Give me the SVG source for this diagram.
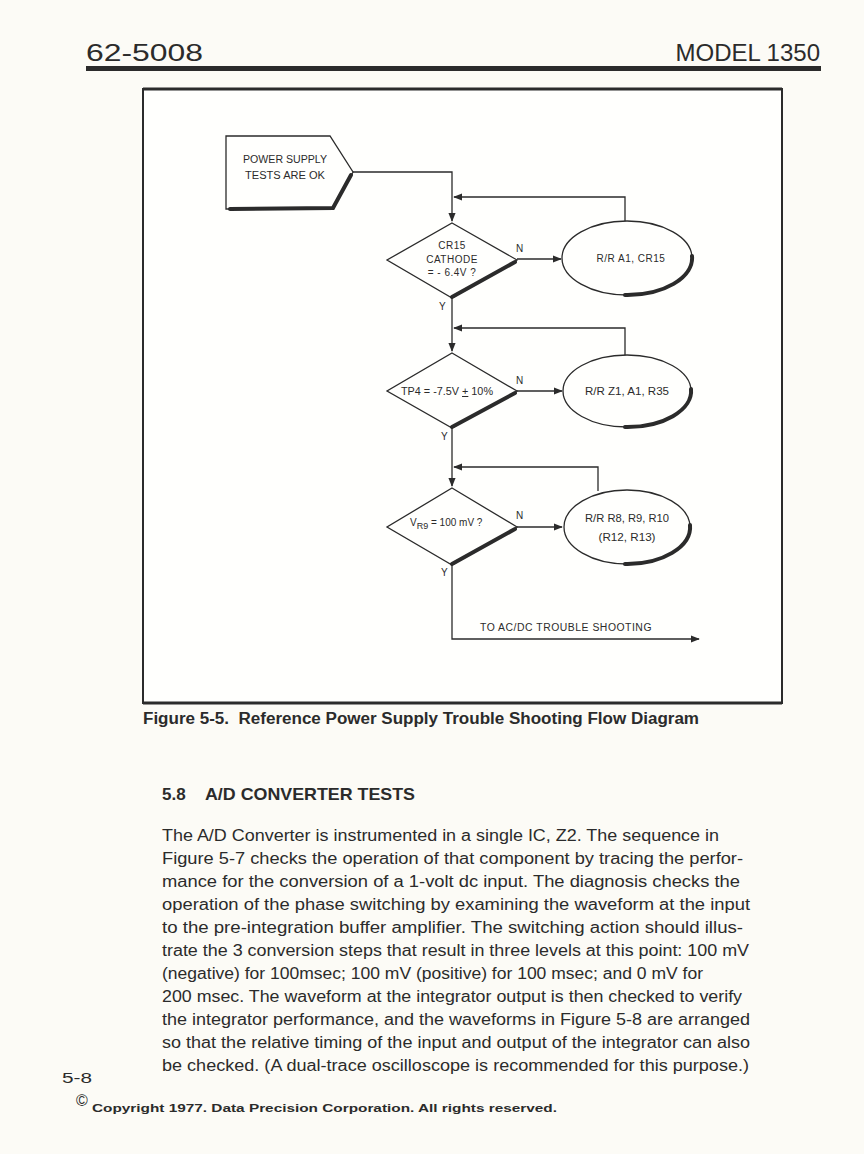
<svg xmlns="http://www.w3.org/2000/svg" width="864" height="1154" viewBox="0 0 864 1154">
<defs>
<marker id="ah" viewBox="0 0 10 10" refX="9" refY="5" markerWidth="9" markerHeight="9" markerUnits="userSpaceOnUse" orient="auto">
<path d="M0,1 L10,5 L0,9 z" fill="#2b2b2b"/>
</marker>
<style>
.ln{fill:none;stroke:#2b2b2b;stroke-width:1.3}
.sh{fill:none;stroke:#2b2b2b;stroke-width:4;stroke-linecap:round}
.nd{fill:#fffffd;stroke:#2b2b2b;stroke-width:1.3}
.t{font-family:"Liberation Sans",Arial,sans-serif;fill:#2b2b2b}
.s{font-size:10px;letter-spacing:0.5px}
.c{text-anchor:middle}
.body{font-size:16px}
</style>
</defs>
<rect width="864" height="1154" fill="#fcfbf6"/>
<g id="header">
<text class="t" x="86" y="61" font-size="24" textLength="117" lengthAdjust="spacingAndGlyphs">62-5008</text>
<text class="t" x="820" y="61" font-size="24" text-anchor="end">MODEL 1350</text>
<rect x="86" y="66" width="735" height="5" fill="#2b2b2b"/>
</g>
<g id="frame">
<path d="M143,703 L143,89 L782,89 L782,703 Z" fill="#fffffd" stroke="#2b2b2b" stroke-width="2"/>
<line x1="143" y1="89" x2="782" y2="89" stroke="#2b2b2b" stroke-width="3"/>
<line x1="143" y1="703" x2="782" y2="703" stroke="#2b2b2b" stroke-width="3"/>
</g>
<g id="connectors">
<path class="ln" d="M353,172 L452,172 L452,221" marker-end="url(#ah)"/>
<path class="ln" d="M625,221 L625,197 L454,197" marker-end="url(#ah)"/>
<path class="ln" d="M517,259 L561,259" marker-end="url(#ah)"/>
<path class="ln" d="M452,298 L452,351" marker-end="url(#ah)"/>
<path class="ln" d="M625,356 L625,328 L454,328" marker-end="url(#ah)"/>
<path class="ln" d="M517,391 L562,391" marker-end="url(#ah)"/>
<path class="ln" d="M452,428 L452,486" marker-end="url(#ah)"/>
<path class="ln" d="M598,491 L598,467 L454,467" marker-end="url(#ah)"/>
<path class="ln" d="M517,527 L562,527" marker-end="url(#ah)"/>
<path class="ln" d="M452,565 L452,639 L699,639" marker-end="url(#ah)"/>
<text class="t s" x="516" y="252">N</text>
<text class="t s" x="439" y="310">Y</text>
<text class="t s" x="516" y="384">N</text>
<text class="t s" x="441" y="440">Y</text>
<text class="t s" x="516" y="519">N</text>
<text class="t s" x="441" y="576">Y</text>
<text class="t s" x="480" y="631" textLength="172" lengthAdjust="spacingAndGlyphs">TO AC/DC TROUBLE SHOOTING</text>
</g>
<g id="start">
<path class="nd" d="M226,136 L330,136 L353,172 L333,209 L226,209 Z"/>
<path class="sh" d="M351,175 L333,208 L230,209" stroke-width="3"/>
<text class="t c" x="285" y="163" font-size="10" textLength="84" lengthAdjust="spacingAndGlyphs">POWER SUPPLY</text>
<text class="t c" x="285" y="179" font-size="10" textLength="80" lengthAdjust="spacingAndGlyphs">TESTS ARE OK</text>
</g>
<g id="d1">
<path class="nd" d="M452,223 L517,260 L452,298 L387,260 Z"/>
<path class="sh" d="M515,262 L452,297"/>
<text class="t s c" x="452" y="249">CR15</text>
<text class="t s c" x="452" y="263">CATHODE</text>
<text class="t s c" x="452" y="276">= - 6.4V ?</text>
</g>
<g id="e1">
<ellipse class="nd" cx="627" cy="258" rx="65" ry="37"/>
<path class="sh" d="M692,256 A65,37 0 0 1 625,295"/>
<text class="t s c" x="631" y="262">R/R A1, CR15</text>
</g>
<g id="d2">
<path class="nd" d="M452,353 L517,391 L452,428 L387,391 Z"/>
<path class="sh" d="M515,393 L452,427"/>
<text class="t c" x="447" y="395" font-size="10" textLength="92" lengthAdjust="spacingAndGlyphs">TP4 = -7.5V <tspan text-decoration="underline">+</tspan> 10%</text>
</g>
<g id="e2">
<ellipse class="nd" cx="627" cy="391" rx="64" ry="36"/>
<path class="sh" d="M691,389 A64,36 0 0 1 625,427"/>
<text class="t c" x="627" y="395" font-size="10" textLength="84" lengthAdjust="spacingAndGlyphs">R/R Z1, A1, R35</text>
</g>
<g id="d3">
<path class="nd" d="M452,488 L517,527 L452,565 L387,527 Z"/>
<path class="sh" d="M515,529 L452,564"/>
<text class="t" x="410" y="526" font-size="10">V<tspan font-size="9" dy="3">R9</tspan><tspan dy="-3"> = 100 mV ?</tspan></text>
</g>
<g id="e3">
<ellipse class="nd" cx="627" cy="527" rx="63" ry="37"/>
<path class="sh" d="M690,525 A63,37 0 0 1 625,564"/>
<text class="t c" x="627" y="522" font-size="10" textLength="84" lengthAdjust="spacingAndGlyphs">R/R R8, R9, R10</text>
<text class="t c" x="627" y="541" font-size="10" textLength="57" lengthAdjust="spacingAndGlyphs">(R12, R13)</text>
</g>
<g id="caption">
<text class="t" x="143" y="724" font-size="16" font-weight="bold" textLength="556" lengthAdjust="spacingAndGlyphs" xml:space="preserve">Figure 5-5.  Reference Power Supply Trouble Shooting Flow Diagram</text>
<text class="t" x="162" y="800" font-size="17" font-weight="bold">5.8</text>
<text class="t" x="205" y="800" font-size="17" font-weight="bold" textLength="210" lengthAdjust="spacingAndGlyphs">A/D CONVERTER TESTS</text>
</g>
<g id="body" class="t body">
<text x="162" y="841" textLength="557" lengthAdjust="spacingAndGlyphs">The A/D Converter is instrumented in a single IC, Z2. The sequence in</text>
<text x="162" y="864" textLength="581" lengthAdjust="spacingAndGlyphs">Figure 5-7 checks the operation of that component by tracing the perfor-</text>
<text x="162" y="887" textLength="578" lengthAdjust="spacingAndGlyphs">mance for the conversion of a 1-volt dc input. The diagnosis checks the</text>
<text x="162" y="910" textLength="588" lengthAdjust="spacingAndGlyphs">operation of the phase switching by examining the waveform at the input</text>
<text x="162" y="933" textLength="581" lengthAdjust="spacingAndGlyphs">to the pre-integration buffer amplifier. The switching action should illus-</text>
<text x="162" y="956" textLength="587" lengthAdjust="spacingAndGlyphs">trate the 3 conversion steps that result in three levels at this point: 100 mV</text>
<text x="162" y="979" textLength="541" lengthAdjust="spacingAndGlyphs">(negative) for 100msec; 100 mV (positive) for 100 msec; and 0 mV for</text>
<text x="162" y="1002" textLength="580" lengthAdjust="spacingAndGlyphs">200 msec. The waveform at the integrator output is then checked to verify</text>
<text x="162" y="1025" textLength="588" lengthAdjust="spacingAndGlyphs">the integrator performance, and the waveforms in Figure 5-8 are arranged</text>
<text x="162" y="1048" textLength="588" lengthAdjust="spacingAndGlyphs">so that the relative timing of the input and output of the integrator can also</text>
<text x="162" y="1071" textLength="587" lengthAdjust="spacingAndGlyphs">be checked. (A dual-trace oscilloscope is recommended for this purpose.)</text>
</g>
<g id="footer">
<text class="t" x="62" y="1083" font-size="14" textLength="30" lengthAdjust="spacingAndGlyphs">5-8</text>
<text class="t" x="76" y="1106" font-size="16">©</text>
<text class="t" x="92" y="1112" font-size="11" font-weight="bold" textLength="465" lengthAdjust="spacingAndGlyphs">Copyright 1977. Data Precision Corporation. All rights reserved.</text>
</g>
</svg>
